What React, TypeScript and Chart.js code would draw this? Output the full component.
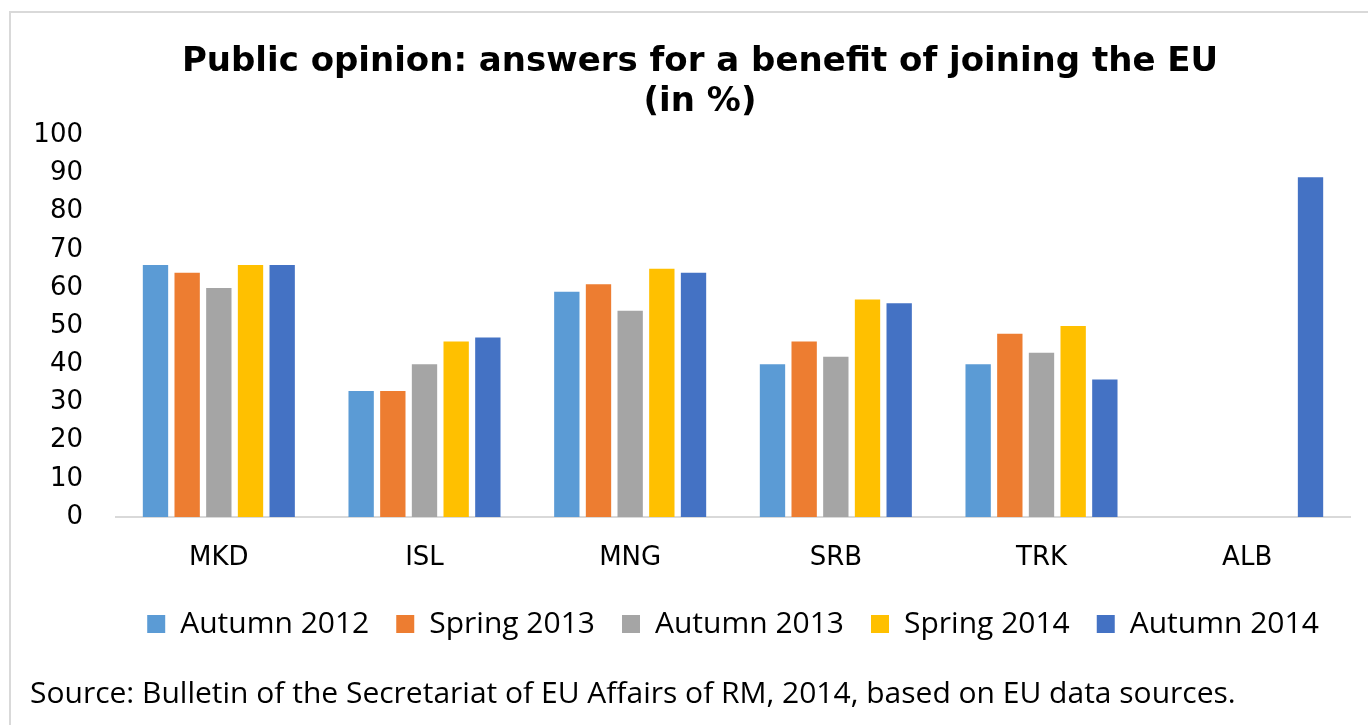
import React, { useEffect, useRef } from "react";
import { Chart, registerables } from "chart.js";

Chart.register(...registerables);

const categories = ["MKD", "ISL", "MNG", "SRB", "TRK", "ALB"];
const seriesNames = ["Autumn 2012", "Spring 2013", "Autumn 2013", "Spring 2014", "Autumn 2014"];
const autumn2012 = [66, 33, 59, 40, 40, null];
const spring2013 = [64, 33, 61, 46, 48, null];
const autumn2013 = [60, 40, 54, 42, 43, null];
const spring2014 = [66, 46, 65, 57, 50, null];
const autumn2014 = [66, 47, 64, 56, 36, 89];
const seriesColors = ["#5B9BD5", "#ED7D31", "#A5A5A5", "#FFC000", "#4472C4"];
const titleLines = ["Public opinion: answers for a benefit of joining the EU", "(in %)"];
const sourceText = "Source: Bulletin of the Secretariat of EU Affairs of RM, 2014, based on EU data sources.";

export default function App() {
  const canvasRef = useRef<HTMLCanvasElement | null>(null);

  useEffect(() => {
    document.body.style.margin = "0";
    const values = [autumn2012, spring2013, autumn2013, spring2014, autumn2014];
    const chart = new Chart(canvasRef.current as HTMLCanvasElement, {
      type: "bar",
      data: {
        labels: categories,
        datasets: seriesNames.map((name, i) => ({
          label: name,
          data: values[i],
          backgroundColor: seriesColors[i],
          borderWidth: 0,
          categoryPercentage: 0.77,
          barPercentage: 0.8,
        })),
      },
      options: {
        animation: false,
        responsive: true,
        maintainAspectRatio: false,
        layout: { padding: { left: 32, right: 0, top: 0, bottom: 76 } },
        plugins: {
          title: {
            display: true,
            text: titleLines,
            color: "#000",
            font: { family: "'DejaVu Sans', sans-serif", size: 34, weight: "bold", lineHeight: 1.18 },
            padding: { top: 42, bottom: 13 },
          },
          legend: {
            display: true,
            position: "bottom",
            fullSize: false,
            labels: {
              boxWidth: 18,
              boxHeight: 18,
              padding: 27,
              color: "#000",
              font: { family: "'Open Sans', sans-serif", size: 30 },
            },
          },
          tooltip: { enabled: false },
        },
        scales: {
          x: {
            grid: { display: false, drawTicks: false },
            border: { display: true, color: "#d9d9d9", width: 2 },
            ticks: {
              color: "#000",
              padding: 26,
              font: { family: "'DejaVu Sans', sans-serif", size: 26 },
            },
            afterFit: (scale: any) => {
              scale.height = 65;
            },
          },
          y: {
            min: 0,
            max: 100,
            grid: { display: false, drawTicks: false },
            border: { display: false },
            ticks: {
              stepSize: 10,
              autoSkip: false,
              color: "#000",
              padding: 33,
              font: { family: "'DejaVu Sans', sans-serif", size: 26 },
            },
            afterFit: (scale: any) => {
              scale.width = 84;
            },
          },
          yRight: {
            type: "linear",
            position: "right",
            display: true,
            grid: { display: false, drawTicks: false },
            border: { display: false },
            ticks: { display: false },
            afterFit: (scale: any) => {
              scale.width = 18;
            },
          },
        },
      },
    });
    return () => chart.destroy();
  }, []);

  return (
    <div style={{ position: "relative", width: 1368, height: 725, overflow: "hidden", background: "#fff" }}>
      <div
        style={{
          position: "absolute",
          left: 9,
          top: 11,
          width: 1400,
          height: 800,
          borderLeft: "2px solid #d9d9d9",
          borderTop: "2px solid #d9d9d9",
        }}
      />
      <div style={{ position: "absolute", left: 0, top: 0, width: 1368, height: 725 }}>
        <canvas ref={canvasRef} />
      </div>
      <div
        style={{
          position: "absolute",
          left: 30,
          top: 672,
          fontFamily: "'Open Sans', sans-serif",
          fontSize: 30,
          lineHeight: "40px",
          color: "#000",
          whiteSpace: "nowrap",
        }}
      >
        {sourceText}
      </div>
    </div>
  );
}
